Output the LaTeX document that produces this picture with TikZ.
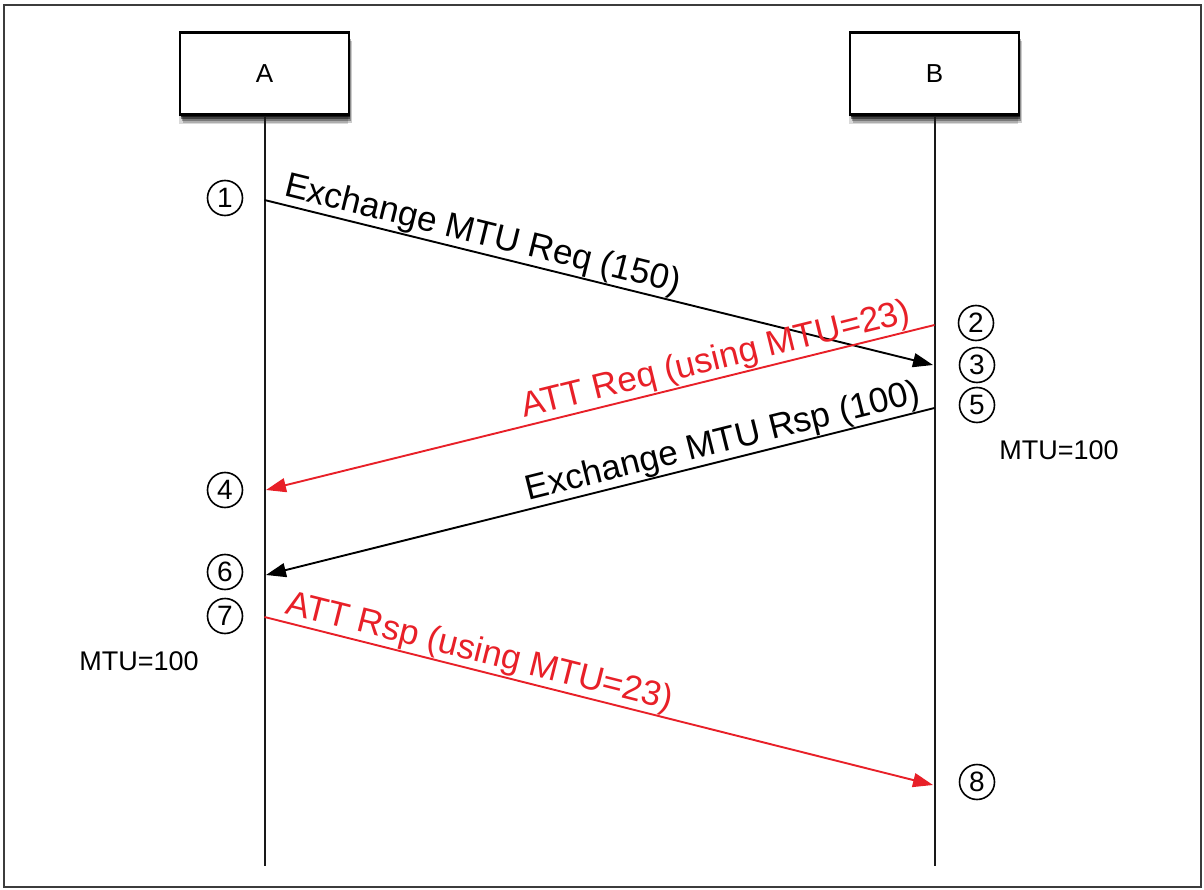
\documentclass[tikz,border=0pt]{standalone}
\usepackage{fontspec}
\setmainfont{Liberation Sans}
\usetikzlibrary{arrows.meta}
\definecolor{msgred}{RGB}{232,32,40}
\definecolor{framegray}{RGB}{60,60,60}
\tikzset{
  actor/.style={draw, line width=2.4pt, fill=white, minimum width=169pt, minimum height=82pt, inner sep=0pt,
    font=\fontsize{26}{28}\selectfont,
    preaction={draw=none, fill=black, fill opacity=0.15, transform canvas={xshift=-1pt, yshift=-10pt}},
    preaction={draw=none, fill=black, fill opacity=0.2, transform canvas={xshift=3pt, yshift=-9pt}},
    preaction={draw=none, fill=black, fill opacity=0.3, transform canvas={xshift=2pt, yshift=-7pt}},
    preaction={draw=none, fill=black, fill opacity=0.45, transform canvas={xshift=1pt, yshift=-5pt}},
    preaction={draw=none, fill=black, fill opacity=0.6, transform canvas={xshift=1pt, yshift=-3pt}}},
  lifeline/.style={line width=2pt, draw=black!90},
  msg/.style={line width=1.9pt, -{Triangle[length=20pt,width=14pt]}},
  redmsg/.style={msg, draw=msgred, fill=msgred},
  lbl/.style={sloped, above, inner sep=0.5pt, font=\fontsize{35}{38}\selectfont},
  num/.style={circle, draw, line width=1.6pt, minimum size=35pt, inner sep=0pt, font=\fontsize{28}{30}\selectfont},
  mtu/.style={inner sep=0pt, font=\fontsize{27}{30}\selectfont}
}
\begin{document}
\begin{tikzpicture}[x=1pt, y=-1pt]
\useasboundingbox (0,0) rectangle (1204,890);
\fill[white] (0,0) rectangle (1204,890);
\draw[framegray, line width=2.2pt] (4,5) rectangle (1201,887);

\node[actor] (A) at (264.5,73.5) {A};
\node[actor] (B) at (934.5,73.5) {B};
\coordinate (Aend) at (264.5,866);
\coordinate (Bend) at (934.5,866);
\draw[lifeline] (A.south) -- (Aend);
\draw[lifeline] (B.south) -- (Bend);

\coordinate (a1) at (264.5,200);
\coordinate (b3) at (933,365);
\coordinate (b2) at (934.5,325);
\coordinate (a4) at (266,490);
\coordinate (b5) at (934.5,408);
\coordinate (a6) at (266,575);
\coordinate (a7) at (264.5,617);
\coordinate (b8) at (933,785);

\draw[msg] (a1) -- node[lbl, pos=0.32] (l1) {Exchange MTU Req (150)} (b3);
\draw[redmsg] (b2) -- node[lbl, pos=0.32, text=msgred] (l2) {ATT Req (using MTU=23)} (a4);
\draw[msg] (b5) -- node[lbl, pos=0.31] (l3) {Exchange MTU Rsp (100)} (a6);
\draw[redmsg] (a7) -- node[lbl, pos=0.315, text=msgred] (l4) {ATT Rsp (using MTU=23)} (b8);

\node[num] (n1) at (225,198) {1};
\node[num] (n2) at (976,323) {2};
\node[num] (n3) at (977,365) {3};
\node[num] (n5) at (977,405) {5};
\node[num] (n4) at (225,490) {4};
\node[num] (n6) at (225,572) {6};
\node[num] (n7) at (225,616) {7};
\node[num] (n8) at (977,782) {8};

\node[mtu] (m1) at (1059,450) {MTU=100};
\node[mtu] (m2) at (139,661) {MTU=100};
\end{tikzpicture}
\end{document}
